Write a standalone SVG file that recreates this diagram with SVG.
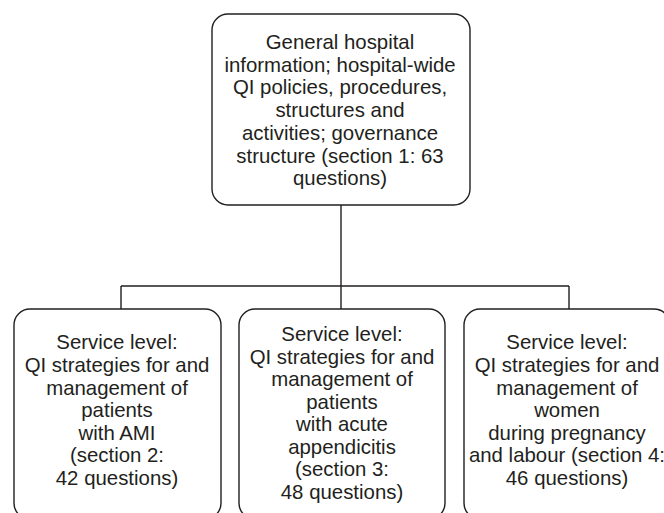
<svg xmlns="http://www.w3.org/2000/svg" width="664" height="513" viewBox="0 0 664 513">
<style>
.box{fill:#fff;stroke:#231f20;stroke-width:1.4}
.conn{fill:none;stroke:#231f20;stroke-width:1.4}
text{font-family:"Liberation Sans",Arial,sans-serif;font-size:20.4px;fill:#231f20;text-anchor:middle}
</style>
<rect width="664" height="513" fill="#fff"/>
<g id="connectors">
<path class="conn" d="M341 205V286M121 286H569M121 286V309M341 286V309M569 286V309"/>
</g>
<g id="top">
<rect class="box" x="212" y="14" width="258" height="191" rx="16"/>
<text x="340" y="49">General hospital</text>
<text x="340" y="72">information; hospital-wide</text>
<text x="340" y="94">QI policies, procedures,</text>
<text x="340" y="117">structures and</text>
<text x="340" y="140">activities; governance</text>
<text x="340" y="163">structure (section 1: 63</text>
<text x="340" y="185">questions)</text>
</g>
<g id="ami">
<rect class="box" x="14" y="309" width="207" height="210" rx="16"/>
<text x="117" y="349">Service level:</text>
<text x="117" y="372">QI strategies for and</text>
<text x="117" y="395">management of</text>
<text x="117" y="417">patients</text>
<text x="117" y="440">with AMI</text>
<text x="117" y="462">(section 2:</text>
<text x="117" y="485">42 questions)</text>
</g>
<g id="appendicitis">
<rect class="box" x="239" y="309" width="206" height="210" rx="16"/>
<text x="342" y="341">Service level:</text>
<text x="342" y="364">QI strategies for and</text>
<text x="342" y="386">management of</text>
<text x="342" y="409">patients</text>
<text x="342" y="431">with acute</text>
<text x="342" y="454">appendicitis</text>
<text x="342" y="476">(section 3:</text>
<text x="342" y="499">48 questions)</text>
</g>
<g id="pregnancy">
<rect class="box" x="464" y="309" width="206" height="210" rx="16"/>
<text x="567" y="349">Service level:</text>
<text x="567" y="372">QI strategies for and</text>
<text x="567" y="395">management of</text>
<text x="567" y="417">women</text>
<text x="567" y="440">during pregnancy</text>
<text x="567" y="462">and labour (section 4:</text>
<text x="567" y="485">46 questions)</text>
</g>
</svg>
